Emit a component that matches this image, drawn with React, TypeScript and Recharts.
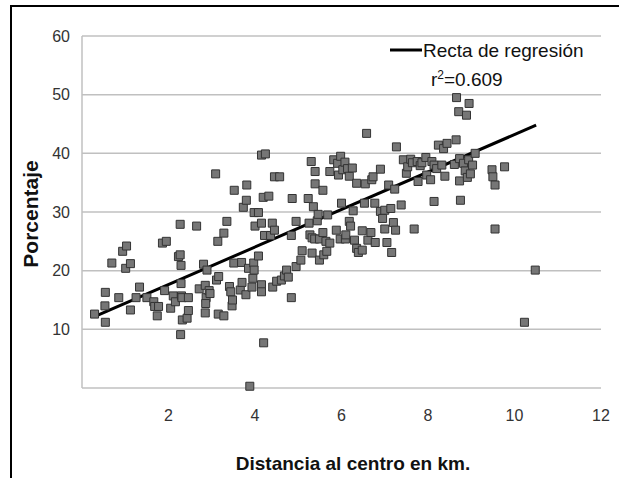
import { ScatterChart, Scatter, XAxis, YAxis, ZAxis, CartesianGrid, ReferenceLine, Customized } from 'recharts'

// distance to centre (km) and percentage
const distKm = [
  0.29, 0.53, 0.54, 0.54, 0.69, 0.85, 0.94, 1.03, 1.01, 1.12, 1.12, 1.25, 1.33, 1.5, 1.66, 1.68, 1.74, 1.77, 1.86, 1.95,
  1.91, 2.05, 2.11, 2.16, 2.23, 2.27, 2.27, 2.29, 2.29, 2.3, 2.31, 2.32, 2.28, 2.43, 2.46, 2.46, 2.65, 2.71, 2.81, 2.85,
  2.87, 2.86, 2.85, 2.89, 2.94, 2.96, 3.09, 3.14, 3.11, 3.16, 3.15, 3.28, 3.28, 3.35, 3.41, 3.44, 3.47, 3.48, 3.52, 3.51,
  3.69, 3.66, 3.7, 3.73, 3.8, 3.81, 3.79, 3.85, 3.88, 3.93, 3.95, 3.97, 3.98, 3.98, 4.0, 4.08, 4.08, 4.15, 4.24, 4.15,
  4.15, 4.15, 4.19, 4.32, 4.2, 4.22, 4.36, 4.4, 4.45, 4.41, 4.45, 4.57, 4.5, 4.61, 4.68, 4.73, 4.77, 4.84, 4.84, 4.86,
  4.95, 4.95, 5.06, 5.09, 5.23, 5.25, 5.27, 5.3, 5.32, 5.32, 5.35, 5.38, 5.39, 5.39, 5.44, 5.46, 5.49, 5.49, 5.57, 5.57,
  5.59, 5.64, 5.66, 5.68, 5.73, 5.73, 5.82, 5.88, 5.91, 5.93, 5.98, 6.0, 5.97, 6.03, 6.08, 6.09, 6.1, 6.14, 6.18, 6.18,
  6.21, 6.25, 6.27, 6.3, 6.35, 6.35, 6.39, 6.48, 6.48, 6.53, 6.55, 6.58, 6.61, 6.68, 6.7, 6.73, 6.77, 6.78, 6.9, 6.9,
  6.95, 7.0, 7.0, 7.05, 7.09, 7.14, 7.16, 7.2, 7.23, 7.25, 7.27, 7.38, 7.43, 7.5, 7.53, 7.6, 7.64, 7.68, 7.77, 7.75,
  7.82, 7.86, 7.95, 7.97, 8.06, 8.09, 8.14, 8.14, 8.2, 8.24, 8.32, 8.36, 8.39, 8.44, 8.61, 8.65, 8.66, 8.71, 8.73, 8.73,
  8.75, 8.82, 8.86, 8.89, 8.91, 8.95, 8.94, 8.98, 9.03, 9.09, 9.48, 9.5, 9.55, 9.55, 9.77, 10.23, 10.48,
]
const porcentaje = [
  12.6, 14.0, 16.3, 11.2, 21.3, 15.4, 23.3, 24.2, 20.4, 21.2, 13.3, 15.4, 17.2, 15.4, 14.7, 13.9, 12.3, 13.9, 24.7, 25.0,
  16.6, 13.6, 15.7, 14.7, 22.4, 22.7, 27.9, 20.9, 17.8, 15.7, 15.4, 11.6, 9.1, 11.9, 13.2, 15.4, 27.6, 16.9, 21.1, 17.5,
  15.4, 14.4, 12.8, 20.1, 16.6, 16.1, 36.5, 25.0, 18.4, 19.0, 12.6, 12.3, 26.4, 28.4, 17.3, 16.4, 14.0, 15.0, 33.7, 21.3,
  21.4, 16.7, 18.0, 30.8, 32.0, 34.6, 15.9, 20.4, 0.3, 17.2, 18.7, 21.3, 20.1, 29.9, 27.6, 29.9, 22.5, 39.7, 39.9, 17.6,
  16.4, 28.1, 32.5, 32.7, 7.7, 26.0, 26.0, 28.1, 26.9, 17.2, 36.0, 36.0, 18.2, 18.4, 19.1, 20.1, 18.9, 15.4, 26.0, 32.3,
  28.4, 20.7, 21.8, 23.4, 32.3, 28.1, 26.1, 38.6, 25.6, 23.0, 30.9, 25.4, 36.9, 34.8, 28.5, 29.6, 21.8, 25.4, 33.7, 26.5,
  22.7, 25.0, 23.3, 29.5, 24.7, 36.9, 38.9, 26.9, 38.3, 36.3, 39.5, 31.5, 25.4, 37.2, 38.5, 25.4, 26.1, 37.4, 36.1, 28.4,
  27.6, 37.5, 30.2, 25.2, 23.8, 34.9, 23.1, 23.5, 26.8, 31.5, 34.8, 43.4, 25.2, 26.5, 35.5, 36.0, 31.5, 24.8, 37.3, 30.1,
  28.9, 30.3, 27.1, 24.8, 34.6, 30.6, 23.1, 28.2, 33.9, 26.9, 41.1, 31.2, 38.9, 36.6, 37.7, 39.0, 38.4, 27.1, 35.2, 38.6,
  37.9, 38.4, 39.3, 36.3, 35.5, 38.6, 31.8, 38.0, 37.4, 41.4, 38.0, 40.8, 36.1, 41.7, 38.1, 42.3, 49.5, 47.1, 39.1, 35.3,
  32.0, 38.3, 37.0, 46.5, 35.9, 48.5, 38.9, 36.5, 38.0, 40.0, 37.2, 36.0, 34.6, 27.1, 37.7, 11.2, 20.1,
]

const regX = [0.3, 10.5]
const regY = [12.2, 44.8]

const xTicks = [2, 4, 6, 8, 10, 12]
const yTicks = [0, 10, 20, 30, 40, 50, 60]

const points = distKm.map((x, i) => ({ x, y: porcentaje[i] }))

const FONT = '"Liberation Sans", Arial, sans-serif'

function Titles() {
  return (
    <g fontFamily={FONT}>
      <line x1={390} y1={50} x2={422} y2={50} stroke="#000" strokeWidth={3} />
      <text x={423} y={57} fontSize={19} fill="#111">Recta de regresión</text>
      <text x={431} y={86} fontSize={19} fill="#111">
        r<tspan dy={-7} fontSize={12}>2</tspan><tspan dy={7}>=0.609</tspan>
      </text>
      <text x={353} y={470} fontSize={19} fontWeight="bold" textAnchor="middle" fill="#111">
        Distancia al centro en km.
      </text>
      <text
        x={38}
        y={214}
        fontSize={21}
        fontWeight="bold"
        textAnchor="middle"
        fill="#111"
        transform="rotate(-90 38 214)"
      >
        Porcentaje
      </text>
    </g>
  )
}

export default function App() {
  return (
    <div style={{ position: 'fixed', left: 0, top: 0, width: 619, height: 478, background: '#fff', overflow: 'hidden' }}>
      <div
        style={{
          position: 'absolute', left: 10, top: 5, width: 700, height: 600,
          borderLeft: '2px solid #000', borderTop: '2px solid #000',
        }}
      />
      <div style={{ position: 'absolute', left: 0, top: 0 }}>
        <ScatterChart width={619} height={478} margin={{ top: 36, right: 18, left: 0, bottom: 50 }}>
          <CartesianGrid vertical={false} stroke="#c0c0c0" strokeWidth={1.5} />
          <XAxis
            type="number"
            dataKey="x"
            domain={[0, 12]}
            ticks={xTicks}
            axisLine={false}
            tickLine={false}
            height={40}
            tickMargin={16}
            tick={{ fill: '#333', fontSize: 16, fontFamily: FONT }}
          />
          <YAxis
            type="number"
            dataKey="y"
            domain={[0, 60]}
            ticks={yTicks}
            width={82}
            axisLine={{ stroke: '#c0c0c0', strokeWidth: 1.5 }}
            tickLine={false}
            tickMargin={6}
            tickFormatter={(v: number) => (v === 0 ? '' : String(v))}
            tick={{ fill: '#333', fontSize: 16, fontFamily: FONT }}
          />
          <ZAxis range={[52, 52]} />
          <Scatter
            data={points}
            shape="square"
            fill="#767676"
            stroke="#333"
            strokeWidth={1}
            isAnimationActive={false}
          />
          <ReferenceLine
            segment={[{ x: regX[0], y: regY[0] }, { x: regX[1], y: regY[1] }]}
            stroke="#000"
            strokeWidth={3}
          />
          <Customized component={Titles} />
        </ScatterChart>
      </div>
    </div>
  )
}
